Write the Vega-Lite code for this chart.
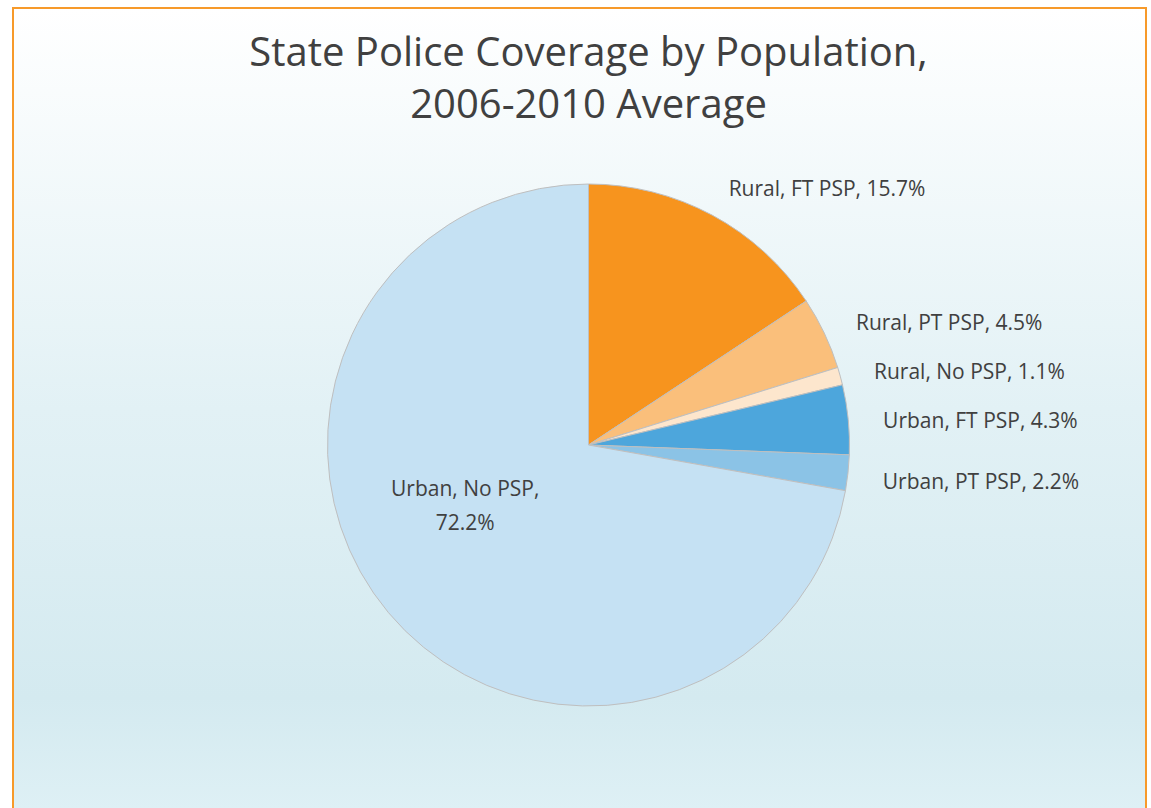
{
  "$schema": "https://vega.github.io/schema/vega-lite/v6.json",
  "width": 1151,
  "height": 808,
  "autosize": {"type": "fit", "contains": "padding"},
  "padding": {"left": 12, "top": 7, "right": 4, "bottom": -3},
  "background": "white",
  "config": {"view": {"stroke": null}},
  "title": {
    "text": ["State Police Coverage by Population,", "2006-2010 Average"],
    "font": "Open Sans",
    "fontSize": 40,
    "fontWeight": "normal",
    "color": "#404040",
    "anchor": "middle",
    "offset": -119,
    "dx": 9,
    "lineHeight": 52
  },
  "layer": [
    {
      "data": {"values": [{"panel": "background"}]},
      "mark": {
        "type": "rect",
        "fill": {"gradient": "linear", "x1": 0, "y1": 0, "x2": 0, "y2": 1, "stops": [{"offset": 0, "color": "#ffffff"}, {"offset": 0.5, "color": "#e2f1f5"}, {"offset": 0.86, "color": "#d4eaf0"}, {"offset": 1, "color": "#def0f5"}]},
        "stroke": "#f79a2a",
        "strokeWidth": 2
      },
      "encoding": {}
    },
    {
      "data": {
        "values": [
          {"category": "Rural, FT PSP", "share": 15.7, "order": 1, "label": "Rural, FT PSP, 15.7%"},
          {"category": "Rural, PT PSP", "share": 4.5, "order": 2, "label": "Rural, PT PSP, 4.5%"},
          {"category": "Rural, No PSP", "share": 1.1, "order": 3, "label": "Rural, No PSP, 1.1%"},
          {"category": "Urban, FT PSP", "share": 4.3, "order": 4, "label": "Urban, FT PSP, 4.3%"},
          {"category": "Urban, PT PSP", "share": 2.2, "order": 5, "label": "Urban, PT PSP, 2.2%"},
          {"category": "Urban, No PSP", "share": 72.2, "order": 6, "label": "Urban, No PSP,\n72.2%"}
        ]
      },
      "encoding": {
        "theta": {"field": "share", "type": "quantitative", "stack": true},
        "order": {"field": "order", "type": "quantitative"}
      },
      "layer": [
        {
          "mark": {"type": "arc", "outerRadius": 261, "stroke": "#bfbfbf", "strokeWidth": 1, "xOffset": 9, "yOffset": 36},
          "encoding": {
            "color": {
              "field": "category",
              "type": "nominal",
              "legend": null,
              "scale": {
                "domain": ["Rural, FT PSP", "Rural, PT PSP", "Rural, No PSP", "Urban, FT PSP", "Urban, PT PSP", "Urban, No PSP"],
                "range": ["#f7941e", "#fabf7b", "#fde6cd", "#4da6dc", "#8bc3e6", "#c5e1f3"]
              }
            }
          }
        },
        {
          "mark": {"type": "text", "radius": 296, "align": "left", "baseline": "middle", "font": "Open Sans", "fontSize": 21, "color": "#404040", "xOffset": 9, "yOffset": 42},
          "encoding": {
            "text": {"condition": {"test": "datum.order == 6", "value": ""}, "field": "label"}
          }
        },
        {
          "mark": {"type": "text", "radius": 140, "align": "center", "baseline": "middle", "lineBreak": "\n", "lineHeight": 34, "font": "Open Sans", "fontSize": 21, "color": "#404040", "xOffset": -7, "yOffset": -9},
          "encoding": {
            "text": {"condition": {"test": "datum.order != 6", "value": ""}, "field": "label"}
          }
        }
      ]
    }
  ]
}
